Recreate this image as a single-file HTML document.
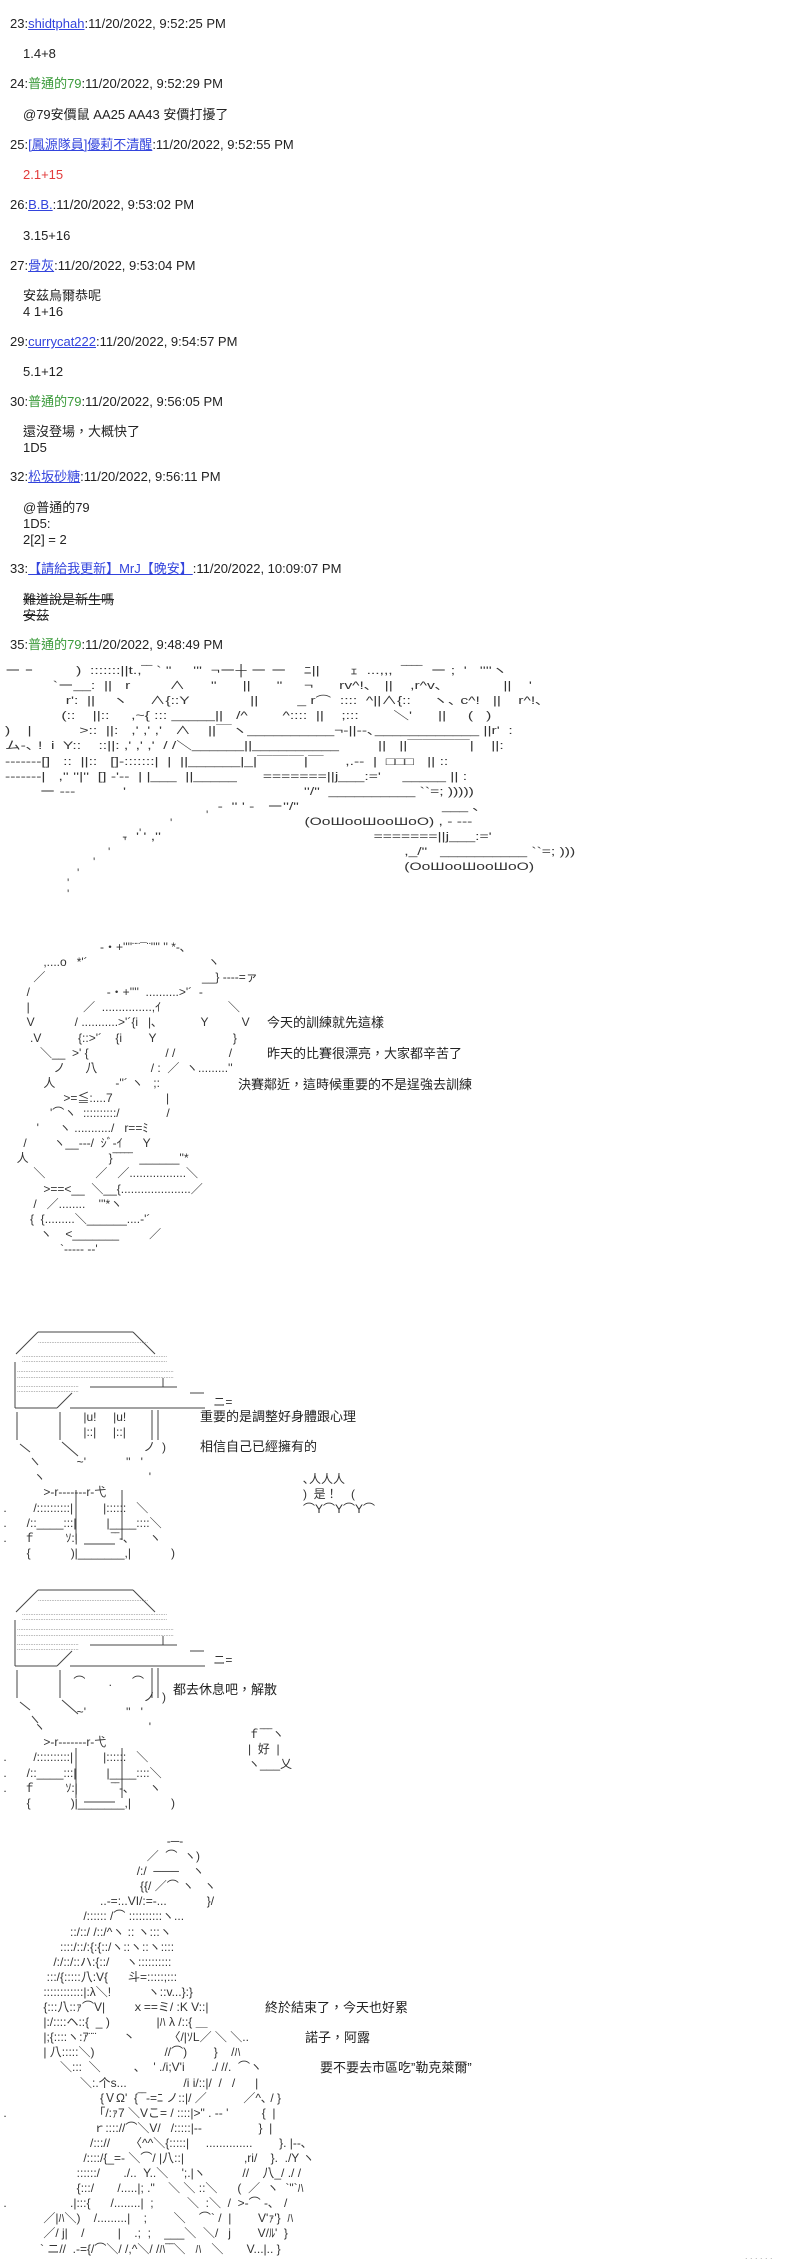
<!DOCTYPE html>
<html><head><meta charset="utf-8">
<style>
html,body{margin:0;padding:0;background:#fff;}
body{width:800px;height:2259px;position:relative;overflow:hidden;font-family:"Liberation Sans","Noto Sans CJK TC",sans-serif;font-size:13px;color:#222;}
.t{position:absolute;white-space:pre;line-height:16px;}
a{color:#3344dd;text-decoration:underline;}
.g{color:#3a9a3a;}
.r{color:#e23a3a;}
.s{text-decoration:line-through;}
.aa{position:absolute;white-space:normal;line-height:15.1px;font-size:12px;color:#333;}
.aa div{white-space:pre;height:15.1px;}
.d{position:absolute;white-space:pre;font-size:13px;line-height:16px;color:#222;}
.q{position:absolute;font-size:12px;color:#444;line-height:12px;}
</style></head><body>

<div class="t" style="left:10px;top:16px">23:<a>shidtphah</a>:11/20/2022, 9:52:25 PM</div>
<div class="t" style="left:23px;top:46px">1.4+8</div>
<div class="t" style="left:10px;top:76px">24:<span class="g">普通的79</span>:11/20/2022, 9:52:29 PM</div>
<div class="t" style="left:23px;top:107px">@79安價鼠 AA25 AA43 安價打擾了</div>
<div class="t" style="left:10px;top:137px">25:<a>[鳳源隊員]優莉不清醒</a>:11/20/2022, 9:52:55 PM</div>
<div class="t r" style="left:23px;top:167px">2.1+15</div>
<div class="t" style="left:10px;top:197px">26:<a>B.B.</a>:11/20/2022, 9:53:02 PM</div>
<div class="t" style="left:23px;top:228px">3.15+16</div>
<div class="t" style="left:10px;top:258px">27:<a>骨灰</a>:11/20/2022, 9:53:04 PM</div>
<div class="t" style="left:23px;top:288px">安茲烏爾恭呢<br>4 1+16</div>
<div class="t" style="left:10px;top:334px">29:<a>currycat222</a>:11/20/2022, 9:54:57 PM</div>
<div class="t" style="left:23px;top:364px">5.1+12</div>
<div class="t" style="left:10px;top:394px">30:<span class="g">普通的79</span>:11/20/2022, 9:56:05 PM</div>
<div class="t" style="left:23px;top:424px">還沒登場，大概快了<br>1D5</div>
<div class="t" style="left:10px;top:469px">32:<a>松坂砂糖</a>:11/20/2022, 9:56:11 PM</div>
<div class="t" style="left:23px;top:500px">@普通的79<br>1D5:<br>2[2] = 2</div>
<div class="t" style="left:10px;top:561px">33:<a>【請給我更新】MrJ【晚安】</a>:11/20/2022, 10:09:07 PM</div>
<div class="t s" style="left:23px;top:592px">難道說是新生嗎<br>安茲</div>
<div class="t" style="left:10px;top:637px">35:<span class="g">普通的79</span>:11/20/2022, 9:48:49 PM</div>

<!-- Scene 1 -->
<div class="aa" style="left:5px;top:664px;font-size:11px;transform:scaleX(1.42);transform-origin:0 0;">
<div>ー ｰ          )  :::::::||t.,‾‾ ` "     '''  ¬ー┼ ー ー    ﾆ||       ｪ  ...,,,  ‾‾‾‾  ー ;  '   ''''ヽ</div>
<div>           `ー__:  ||   r         ∧      "      ||      "     ¬      rv^!､   ||    ,r^v､              ||    '</div>
<div>              r':  ||    ヽ     ∧{::Y              ||         _ r⌒  ::::  ^||∧{::     ヽ､ c^!   ||    r^!､</div>
<div>             (::    ||::     ,~{ ::: _____||   /^        ^::::  ||    ;:::        ＼'      ||     (   )</div>
<div>)    |           >::  ||:   ,' ,' ,'   ∧    ||￣ヽ__________¬-||--､____________ ||r'  :</div>
<div>ム-､ !  i  Y::    ::||: ,' ,' ,'  / /＼______||__________         ||   ||￣￣￣￣|    ||:</div>
<div>-‐‐‐‐‐‐[]   ::  ||::   []-:::::::|  |  ||______|_|￣￣￣|￣     ,.--  |  □□□   || ::</div>
<div>-‐‐‐‐‐‐|   ,'' ''|''  [] -'--  | |___  ||_____      =======||j___:='     _____ || :</div>
<div>        ー ---           '                                         ''/"  __________ ``=; )))))</div>
<div>                                                 -  '' ' -   ー''/"                                 ___ ､</div>
<div>                                                                     (OoШooШooШoO) , - ---</div>
<div>                           -  ' ' ,''                                                 =======||j___:='</div>
<div>                                                                                            ,_/"   __________ ``=; )))</div>
<div>                                                                                            (OoШooШooШoO)</div>
</div>
<div class="q" style="left:206px;top:809px">'</div>
<div class="q" style="left:170px;top:817px">'</div>
<div class="q" style="left:139px;top:827px">'</div>
<div class="q" style="left:124px;top:836px">'</div>
<div class="q" style="left:108px;top:846px">'</div>
<div class="q" style="left:93px;top:856px">'</div>
<div class="q" style="left:77px;top:867px">'</div>
<div class="q" style="left:67px;top:877px">'</div>
<div class="q" style="left:67px;top:888px">'</div>

<!-- Scene 2 -->
<div class="aa" style="left:0;top:940px">
<div>                              ‐・+''''¨¨¯¨'''' '' *‐､</div>
<div>             ,....o   *'´                                    ヽ</div>
<div>          ／                                               __} ----=ァ</div>
<div>        /                       ‐・+''''  ..........>'´  ‐</div>
<div>        |                ／  ...............,ｲ                    ＼</div>
<div>        V            / ...........>'´{i   |､             Y          V</div>
<div>         .V           {::>'´    {i        Y                       }</div>
<div>            ＼__  >' {                       / /                /</div>
<div>                ノ      八                / :  ／  ヽ.........''</div>
<div>             人                  ‐''´ ヽ   ;:</div>
<div>                   >=≦:....7                |</div>
<div>               '⌒ヽ  ::::::::::/              /</div>
<div>           '      ヽ .........../   r==ﾐ</div>
<div>       /        ヽ__‐‐‐/  ｼﾞ‐ｲ      Y</div>
<div>     人                        }‾‾‾‾‾  ______''*</div>
<div>          ＼               ／   ／.................＼</div>
<div>             >==<__  ＼__{.....................／</div>
<div>          /   ／........    '''*ヽ</div>
<div>         {  {.........＼______....‐'´</div>
<div>            ヽ    <_______         ／</div>
<div>                  `‐‐‐-- ‐‐'</div>
</div>
<div class="d" style="left:267px;top:1015px">今天的訓練就先這樣</div>
<div class="d" style="left:267px;top:1046px">昨天的比賽很漂亮，大家都辛苦了</div>
<div class="d" style="left:238px;top:1077px">決賽鄰近，這時候重要的不是逞強去訓練</div>

<!-- Scene 3 hat/body -->
<svg style="position:absolute;left:0;top:0" width="800" height="2259">
<g stroke="#444" stroke-width="1" fill="none">
<g id="hat">
<line x1="38" y1="1332" x2="133" y2="1332"/>
<line x1="38" y1="1332" x2="16" y2="1354"/>
<line x1="133" y1="1332" x2="155" y2="1354"/>
<line x1="15" y1="1362" x2="15" y2="1408"/>
<line x1="15" y1="1408" x2="57" y2="1408"/>
<line x1="57" y1="1408" x2="72" y2="1393"/>
<line x1="70" y1="1408" x2="205" y2="1408"/>
<line x1="90" y1="1387" x2="177" y2="1387"/>
<line x1="163" y1="1378" x2="163" y2="1387"/>
<line x1="190" y1="1393" x2="204" y2="1393"/>
<line x1="17" y1="1412" x2="17" y2="1440"/>
<line x1="60" y1="1412" x2="60" y2="1440"/>
<line x1="152" y1="1410" x2="152" y2="1440"/>
<line x1="158" y1="1410" x2="158" y2="1440"/>
<line x1="62" y1="1442" x2="78" y2="1456"/>
<line x1="20" y1="1444" x2="30" y2="1452"/>
<line x1="32" y1="1458" x2="38" y2="1465"/>
<line x1="76" y1="1490" x2="76" y2="1540"/>
<line x1="122" y1="1490" x2="122" y2="1540"/>
<line x1="84" y1="1544" x2="115" y2="1544"/>
</g>
<use href="#hat" y="258"/>
</g>
<g fill="#666" font-size="6" font-family="Liberation Sans">
<text x="38" y="1343">..................................................................</text>
<text x="22" y="1357">.......................................................................................</text>
<text x="22" y="1362">.......................................................................................</text>
<text x="17" y="1372">..............................................................................................</text>
<text x="17" y="1378">..............................................................................................</text>
<text x="17" y="1387">.....................................</text>
<text x="17" y="1392">.....................................</text>
<text x="38" y="1601">..................................................................</text>
<text x="22" y="1615">.......................................................................................</text>
<text x="22" y="1620">.......................................................................................</text>
<text x="17" y="1630">..............................................................................................</text>
<text x="17" y="1636">..............................................................................................</text>
<text x="17" y="1645">.....................................</text>
<text x="17" y="1650">.....................................</text>
</g>
</svg>
<div class="aa" style="left:0;top:1395px">
<div>                                                                ニ=</div>
</div>
<div class="aa" style="left:0;top:1410px">
<div>                         |u!     |u!</div>
<div>                         |::|     |::|</div>
<div>                                           ノ  )</div>
<div>                       ~'            ''   '</div>
<div>          ヽ                               '</div>
<div>             >‐r‐‐‐‐‐‐‐r‐弋</div>
<div> .        /::::::::::|         |::::::   ＼</div>
<div> .      /::____:::|         |____::::＼</div>
<div> .     ｆ         ｿ:|          ‾‾‐､      ヽ</div>
<div>        {            )|_______,|            )</div>
</div>
<div class="d" style="left:200px;top:1409px">重要的是調整好身體跟心理</div>
<div class="d" style="left:200px;top:1439px">相信自己已經擁有的</div>
<div class="aa" style="left:303px;top:1472px">
<div>､人人人</div>
<div>)  是！    (</div>
<div>⌒Y⌒Y⌒Y⌒</div>
</div>

<!-- Scene 4 -->
<div class="aa" style="left:0;top:1653px">
<div>                                                                ニ=</div>
</div>
<div class="aa" style="left:0;top:1675px">
<div>                      ⌒       .      ⌒</div>
<div>                                           ノ  )</div>
<div>                       ~'            ''   '</div>
<div>          ヽ                               '</div>
<div>             >‐r‐‐‐‐‐‐‐r‐弋</div>
<div> .        /::::::::::|         |::::::   ＼</div>
<div> .      /::____:::|         |____::::＼</div>
<div> .     ｆ         ｿ:|          ‾‾‐､      ヽ</div>
<div>        {            )|_______,|            )</div>
</div>
<div class="d" style="left:173px;top:1682px">都去休息吧，解散</div>
<div class="aa" style="left:248px;top:1727px">
<div>ｆ‾‾‾ヽ</div>
<div>|  好  |</div>
<div>ヽ___乂</div>
</div>

<!-- Scene 5 -->
<div class="aa" style="left:0;top:1834px">
<div>                                                  ‐─‐</div>
<div>                                            ／  ⌒  ヽ)</div>
<div>                                         /:/  ───    ヽ</div>
<div>                                          {{/ ／⌒ ヽ   ヽ</div>
<div>                              ..-=:..VI/:=-...            }/</div>
<div>                         /:::::: /⌒ ::::::::::ヽ...</div>
<div>                     ::/::/ /::/^ヽ :: ヽ:::ヽ</div>
<div>                  ::::/::/:{:{::/ヽ::ヽ::ヽ::::</div>
<div>                /:/::/::ハ:{::/     ヽ::::::::::</div>
<div>              :::/{:::::八:V{      斗=:::::;:::</div>
<div>             ::::::::::::|:λ＼!           ヽ::v...}:}</div>
<div>             {:::八::ｧ⌒V|        ｘ==ミ/ :K V::|</div>
<div>             |:/::::ヘ::{  _ )              |ﾊ λ /::{ ＿</div>
<div>             |;{::::ヽ:ｱ¨¨        丶          〈/|ｿL／ ＼ ＼..</div>
<div>             | 八:::::＼)                     //⌒)        }    /ﾊ</div>
<div>                  ＼:::  ＼          ､    ' ./i;V'i        ./ //.  ⌒ヽ</div>
<div>                        ＼:.个s...                 /i i/::|/  /   /      |</div>
<div>                              {ＶΩ'  {‾‾-=ﾆ ノ::|/ ／           ／^､ / }</div>
<div> .                          「/:ｧ7 ＼Vこ= / ::::|>" . -‐ '          {  |</div>
<div>                            ｒ:::://⌒＼V/   /:::::|‐‐                 }  |</div>
<div>                           /::://      〈^^＼{:::::|     ..............        }. |‐-､</div>
<div>                         /::::/{_=- ＼⌒/ |八::|                  ,ri/    }.  ./Y ヽ</div>
<div>                       ::::::/       ./..  Y..＼    ';.|ヽ           //    八_/ ./ /</div>
<div>                       {:::/       /.....|; ."    ＼ ＼ ::＼      (  ／  ヽ  `"`ﾊ</div>
<div> .                   .|:::{      /........|  ;          ＼  :＼  /  >‐⌒ ‐､   /</div>
<div>             ／|ﾊ＼)    /.........|    ;        ＼    ⌒` /  |        V'ｧ'}  ﾊ</div>
<div>             ／/ j|    /          |    .;  ;    ___＼  ＼/   j        V/ﾙ'  }</div>
<div>            ` ニ//  .-={/⌒＼/ /,^＼/ /ﾊ‾‾＼   ﾊ   ＼       V...|.. }</div>
</div>
<div class="d" style="left:265px;top:2000px">終於結束了，今天也好累</div>
<div class="d" style="left:305px;top:2030px">諾子，阿露</div>
<div class="d" style="left:320px;top:2060px">要不要去市區吃”勒克萊爾”</div>
<div class="q" style="left:745px;top:2250px;color:#aaa;font-size:9px">. . . . . .</div>
</body></html>
